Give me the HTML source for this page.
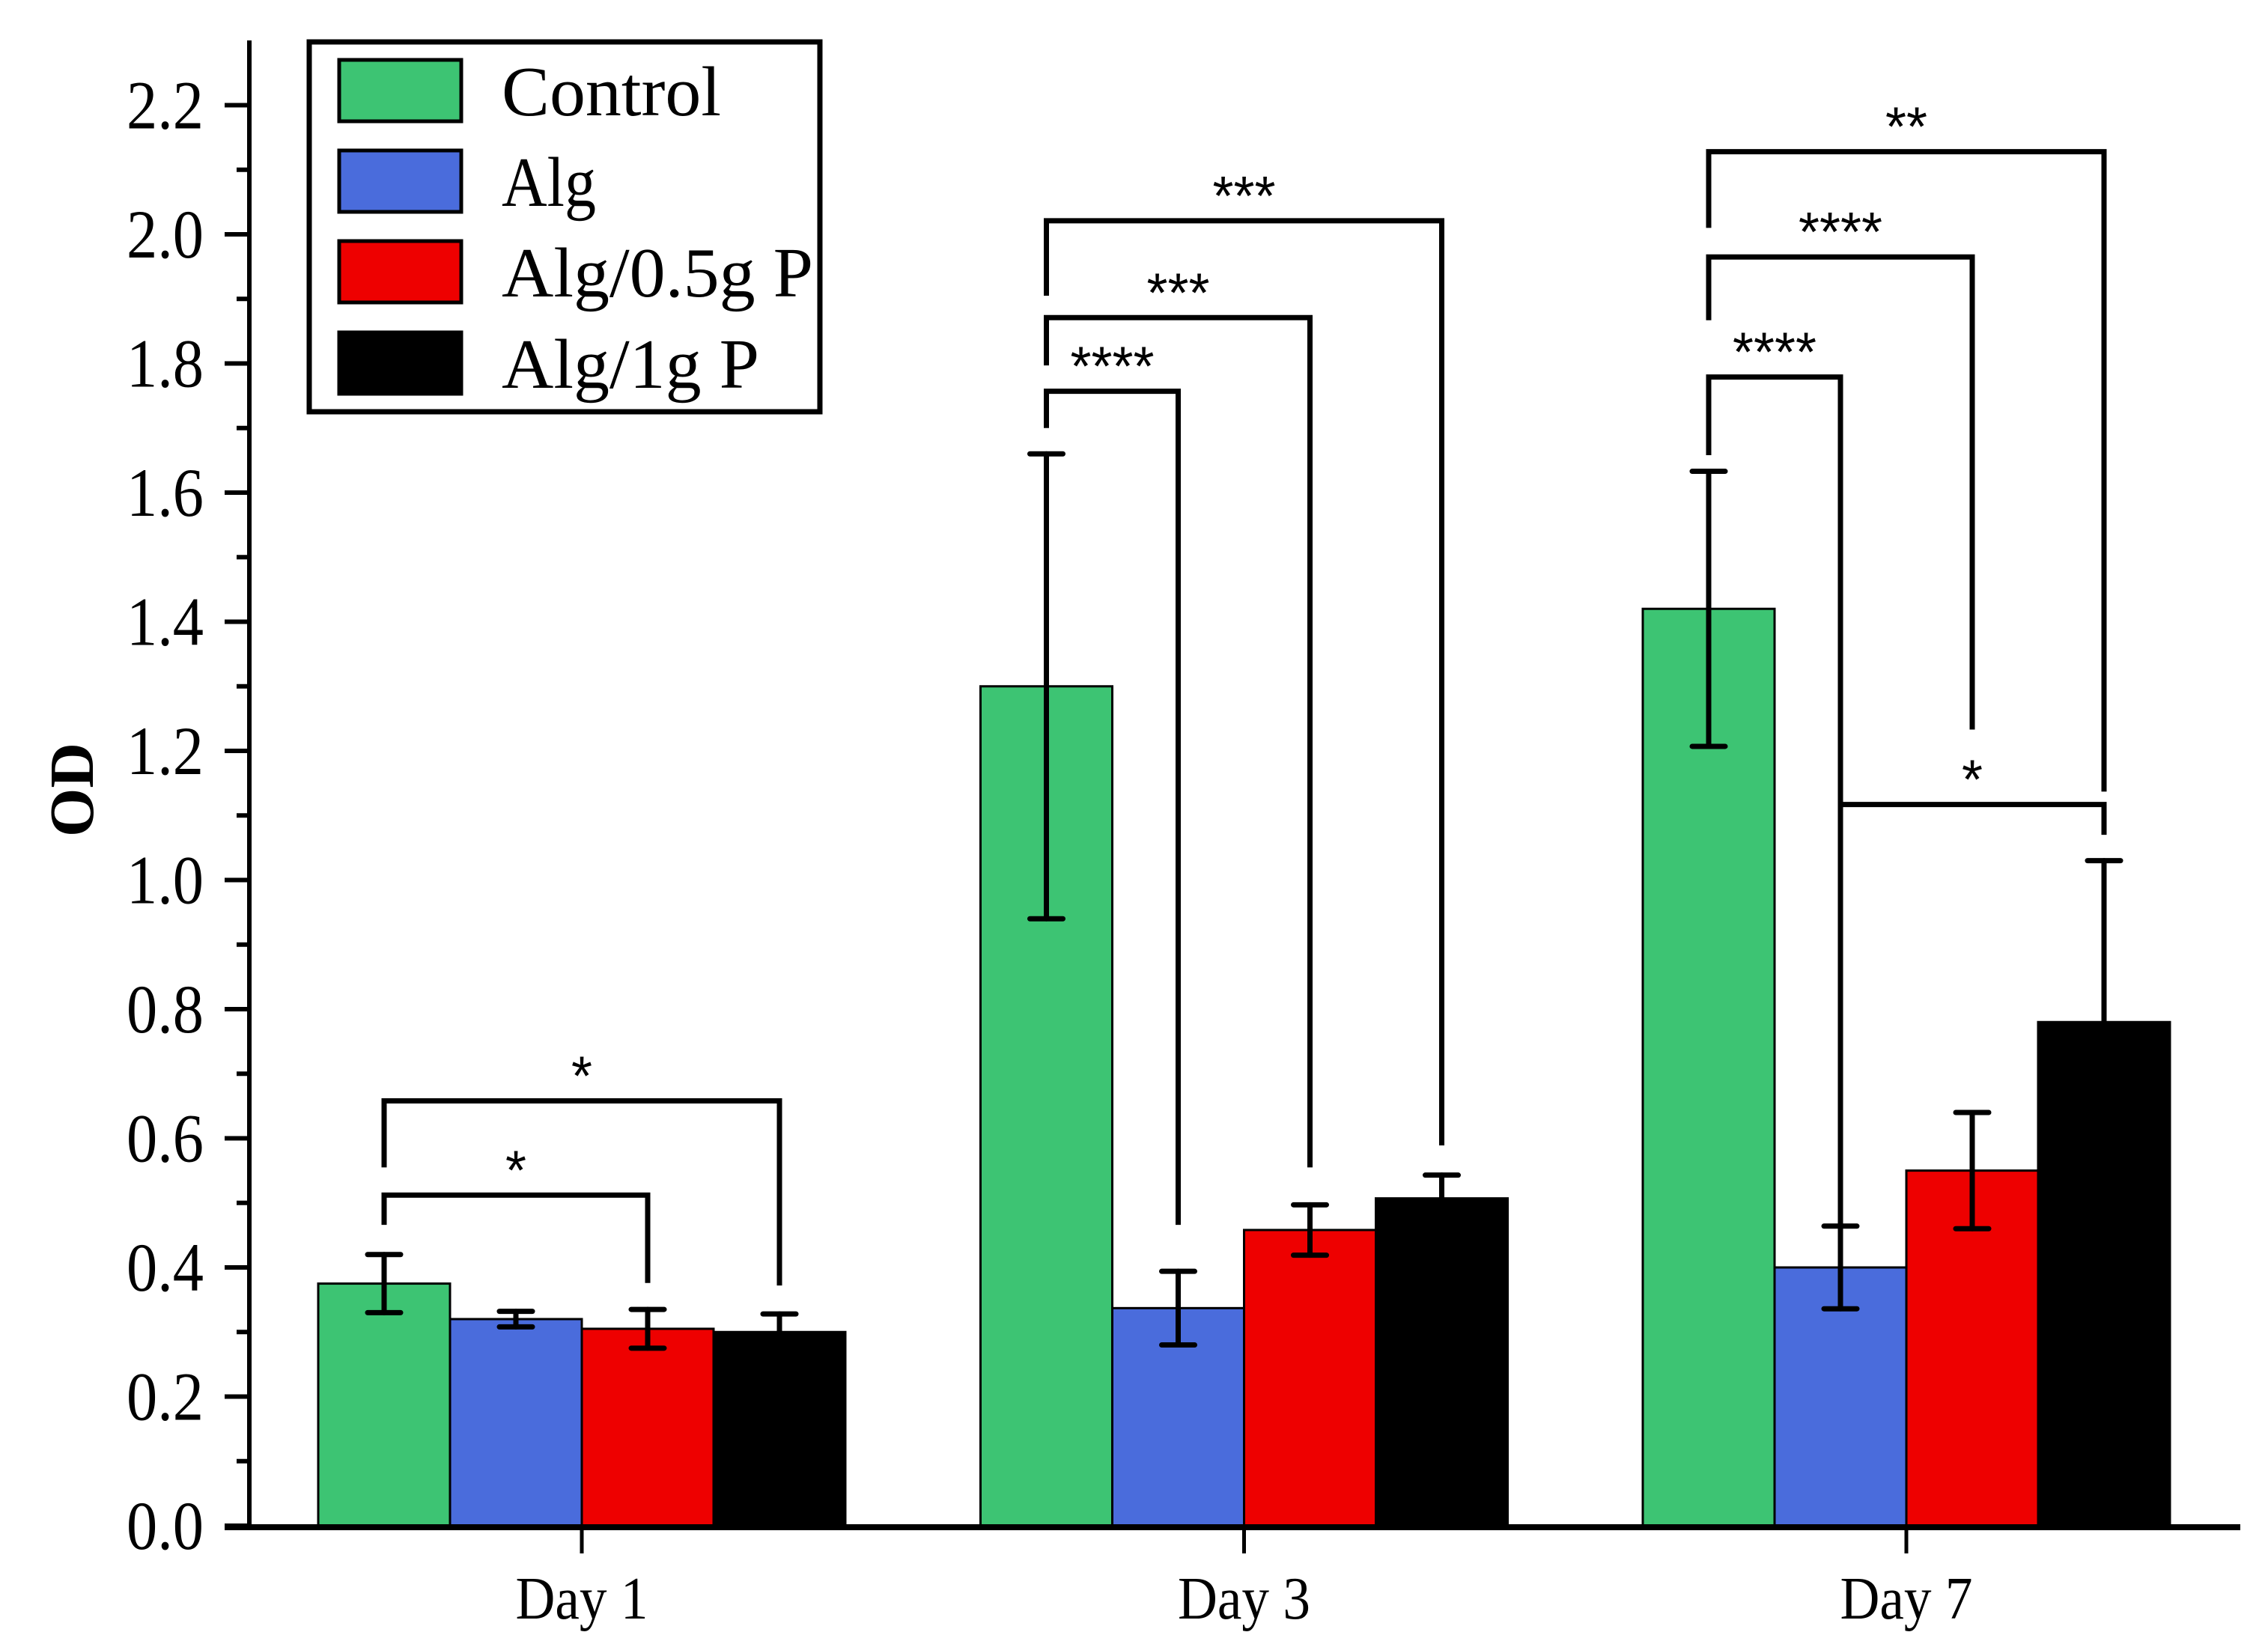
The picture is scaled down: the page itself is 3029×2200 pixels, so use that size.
<!DOCTYPE html>
<html><head><meta charset="utf-8"><style>
html,body{margin:0;padding:0;background:#fff;}
svg{display:block;}
text{font-family:"Liberation Serif",serif;fill:#000;}
</style></head><body>
<svg id="chart" width="3029" height="2200" viewBox="0 0 3029 2200" xmlns="http://www.w3.org/2000/svg">
<text x="0" y="0" transform="translate(124,1055) rotate(-90)" text-anchor="middle" font-size="84" font-weight="bold">OD</text>
<g id="legend">
<rect x="413" y="56" width="682" height="494" fill="#fff" stroke="#000" stroke-width="7"/>
</g>
</svg>
<script>
const categories = ["Day 1","Day 3","Day 7"];
const seriesNames = ["Control","Alg","Alg/0.5g P","Alg/1g P"];
const seriesColors = ["#3dc473","#4a6cdc","#ee0000","#000000"];
const controlVals = [0.375, 1.30, 1.42];
const algVals = [0.32, 0.337, 0.40];
const alg05Vals = [0.305, 0.458, 0.55];
const alg1Vals = [0.30, 0.507, 0.78];
const controlErr = [0.045, 0.36, 0.213];
const algErr = [0.012, 0.057, 0.064];
const alg05Err = [0.03, 0.039, 0.09];
const alg1Err = [0.028, 0.036, 0.25];
const yTicks = [0.0,0.2,0.4,0.6,0.8,1.0,1.2,1.4,1.6,1.8,2.0,2.2];
const yTickLabels = ["0.0","0.2","0.4","0.6","0.8","1.0","1.2","1.4","1.6","1.8","2.0","2.2"];
// brackets: [group, barA, barB, topValue, leftLegEnd, rightLegEnd, label]
const brackets = [
 [0,0,3,0.658,0.555,0.372,"*"],
 [0,0,2,0.512,0.466,0.376,"*"],
 [1,0,1,1.757,1.70,0.466,"****"],
 [1,0,2,1.871,1.797,0.555,"***"],
 [1,0,3,2.021,1.905,0.589,"***"],
 [2,0,1,1.779,1.658,0.466,"****"],
 [2,0,2,1.965,1.867,1.233,"****"],
 [2,0,3,2.128,2.01,1.137,"**"],
 [2,1,3,1.117,1.117,1.07,"*"]
];
const values=[controlVals,algVals,alg05Vals,alg1Vals];
const errs=[controlErr,algErr,alg05Err,alg1Err];
const NS="http://www.w3.org/2000/svg";
const svg=document.getElementById('chart');
const X0=333, Y0=2038, PX=862.5, GROUP0=777, GSTEP=884.5, BW=176;
function yS(v){return Y0 - v*PX;}
function gX(i){return GROUP0 + i*GSTEP;}
function bX(g,s){return gX(g) - 2*BW + s*BW;}
function bC(g,s){return bX(g,s)+BW/2;}
function mk(tag,attrs,parent){const e=document.createElementNS(NS,tag);for(const k in attrs)e.setAttribute(k,attrs[k]);(parent||svg).appendChild(e);return e;}

for(let s=0;s<4;s++){for(let g=0;g<3;g++){
 const v=values[s][g];
 const r=mk('rect',{x:bX(g,s),y:yS(v),width:BW,height:Y0-yS(v),fill:seriesColors[s],stroke:'#000','stroke-width':3});
 
 
}}
for(let s=0;s<4;s++){for(let g=0;g<3;g++){
 const v=values[s][g],e=errs[s][g],cx=bC(g,s);
 const eg=mk('g',{stroke:'#000','stroke-width':7,'stroke-linecap':'round'});
 
 
 mk('line',{x1:cx,x2:cx,y1:yS(v+e),y2:yS(v-e)},eg);
 mk('line',{x1:cx-22,x2:cx+22,y1:yS(v+e),y2:yS(v+e)},eg);
 mk('line',{x1:cx-22,x2:cx+22,y1:yS(v-e),y2:yS(v-e)},eg);
}}
brackets.forEach(b=>{
 const [g,a,c,top,le,re,lab]=b;
 const xa=bC(g,a), xb=bC(g,c);
 const bg=mk('g',{});
 
 
 mk('path',{d:`M${xa},${yS(le)} L${xa},${yS(top)} L${xb},${yS(top)} L${xb},${yS(re)}`,fill:'none',stroke:'#000','stroke-width':7},bg);
 const t=mk('text',{x:(xa+xb)/2,y:yS(top)-8,'text-anchor':'middle','font-size':74,textLength:lab.length*28,lengthAdjust:'spacingAndGlyphs',style:'font-family:"Liberation Sans",sans-serif'},bg);
 t.textContent=lab;
});
const ax=mk('g',{});


mk('line',{x1:X0,x2:X0,y1:54,y2:Y0+3,stroke:'#000','stroke-width':6},ax);
yTicks.forEach((v,i)=>{
 mk('line',{x1:300,x2:X0,y1:yS(v),y2:yS(v),stroke:'#000','stroke-width':6},ax);
 const t=mk('text',{x:272,y:yS(v)+31,'text-anchor':'end','font-size':92,textLength:103,lengthAdjust:'spacingAndGlyphs'},ax);
 
 
 t.textContent=yTickLabels[i];
 if(i<yTicks.length-1){const m=(v+yTicks[i+1])/2;mk('line',{x1:316,x2:X0,y1:yS(m),y2:yS(m),stroke:'#000','stroke-width':6},ax);}
});
const xa=mk('g',{});


mk('line',{x1:300,x2:2992,y1:Y0+2,y2:Y0+2,stroke:'#000','stroke-width':8},xa);
categories.forEach((c,i)=>{
 mk('line',{x1:gX(i),x2:gX(i),y1:Y0,y2:2075,stroke:'#000','stroke-width':5},xa);
 const t=mk('text',{x:gX(i),y:2162,'text-anchor':'middle','font-size':80,textLength:177,lengthAdjust:'spacingAndGlyphs'},xa);
 
 
 t.textContent=c;
});
const lg=document.getElementById('legend');
const rowsY=[80,201,322,444];
const legendLens=[293,126,416,344];
seriesNames.forEach((n,i)=>{
 const r=mk('rect',{x:453,y:rowsY[i],width:163,height:82,fill:seriesColors[i],stroke:'#000','stroke-width':5},lg);
 
 
 const t=mk('text',{x:670,y:rowsY[i]+74,'font-size':94,textLength:legendLens[i],lengthAdjust:'spacingAndGlyphs'},lg);
 
 
 t.textContent=n;
});
</script>
</body></html>
